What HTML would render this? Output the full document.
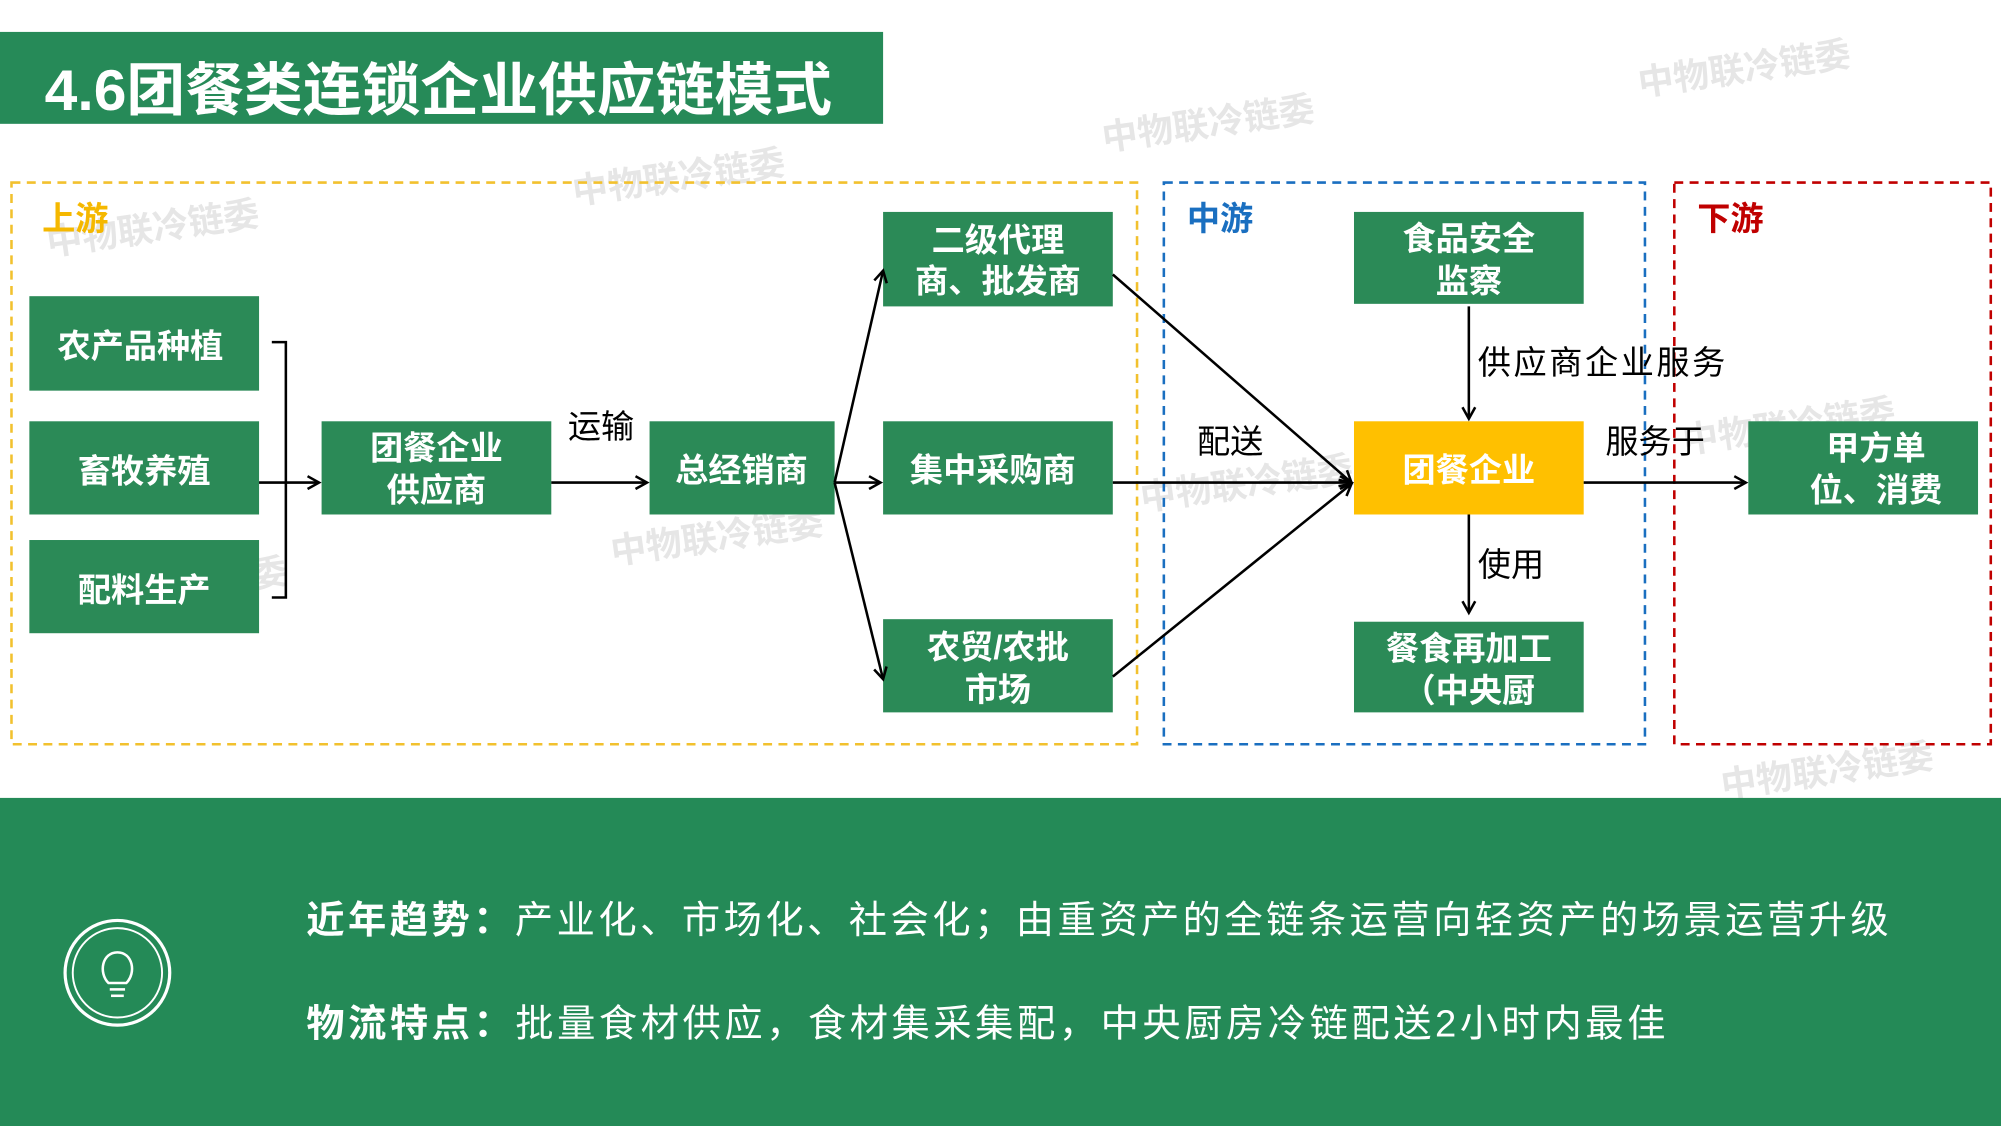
<!DOCTYPE html>
<html><head><meta charset="utf-8"><style>
html,body{margin:0;padding:0;background:#fff;}
svg{display:block;}
text{font-family:"Liberation Sans","Noto Sans CJK SC","WenQuanYi Zen Hei",sans-serif;}
</style></head><body>
<svg width="2001" height="1126" viewBox="0 0 1568 882" preserveAspectRatio="none" xmlns="http://www.w3.org/2000/svg">
<defs>
<marker id="ah" markerWidth="12" markerHeight="12" refX="10" refY="6" orient="auto" markerUnits="userSpaceOnUse">
<path d="M1,1 L10,6 L1,11" fill="none" stroke="#000" stroke-width="2"/>
</marker>
</defs>
<rect width="1568" height="882" fill="#fff"/>
<g fill="#e6e6e6" font-size="28" font-weight="bold">
<text x="38" y="200" transform="rotate(-8 38 200)">中物联冷链委</text>
<text x="450" y="160" transform="rotate(-8 450 160)">中物联冷链委</text>
<text x="865" y="118" transform="rotate(-8 865 118)">中物联冷链委</text>
<text x="1285" y="75" transform="rotate(-8 1285 75)">中物联冷链委</text>
<text x="480" y="442" transform="rotate(-8 480 442)">中物联冷链委</text>
<text x="895" y="400" transform="rotate(-8 895 400)">中物联冷链委</text>
<text x="1320" y="355" transform="rotate(-8 1320 355)">中物联冷链委</text>
<text x="1350" y="625" transform="rotate(-8 1350 625)">中物联冷链委</text>
<text x="60" y="480" transform="rotate(-8 60 480)">中物联冷链委</text>
</g>
<rect x="0" y="25" width="692" height="72" fill="#268a58"/>
<text x="35" y="86" font-size="45" font-weight="bold" fill="#fff" textLength="617" lengthAdjust="spacingAndGlyphs">4.6团餐类连锁企业供应链模式</text>
<rect x="9" y="143" width="882" height="440" fill="none" stroke="#f2c12e" stroke-width="2" stroke-dasharray="7,5"/>
<rect x="912" y="143" width="377" height="440" fill="none" stroke="#1a6fc0" stroke-width="2" stroke-dasharray="7,5"/>
<rect x="1312" y="143" width="248" height="440" fill="none" stroke="#c00000" stroke-width="2" stroke-dasharray="7,5"/>
<text x="33" y="180" font-size="26" font-weight="bold" fill="#f5b800">上游</text>
<text x="930" y="180" font-size="26" font-weight="bold" fill="#1a6fc0">中游</text>
<text x="1330" y="180" font-size="26" font-weight="bold" fill="#c00000">下游</text>
<g fill="#2b8a57">
<rect x="23" y="232" width="180" height="74"/>
<rect x="23" y="330" width="180" height="73"/>
<rect x="23" y="423" width="180" height="73"/>
<rect x="252" y="330" width="180" height="73"/>
<rect x="509" y="330" width="145" height="73"/>
<rect x="692" y="166" width="180" height="74"/>
<rect x="692" y="330" width="180" height="73"/>
<rect x="692" y="485" width="180" height="73"/>
<rect x="1061" y="166" width="180" height="72"/>
<rect x="1061" y="487" width="180" height="71"/>
<rect x="1370" y="330" width="180" height="73"/>
</g>
<rect x="1061" y="330" width="180" height="73" fill="#ffc000"/>
<g font-size="26" font-weight="bold" fill="#fff" text-anchor="middle">
<text x="110" y="280">农产品种植</text>
<text x="113" y="378">畜牧养殖</text>
<text x="113" y="471">配料生产</text>
<text x="342" y="360">团餐企业</text>
<text x="342" y="393">供应商</text>
<text x="581" y="377">总经销商</text>
<text x="782" y="197">二级代理</text>
<text x="782" y="229">商、批发商</text>
<text x="778" y="377">集中采购商</text>
<text x="782" y="516">农贸/农批</text>
<text x="782" y="549">市场</text>
<text x="1151" y="196">食品安全</text>
<text x="1151" y="229">监察</text>
<text x="1151" y="377">团餐企业</text>
<text x="1151" y="517">餐食再加工</text>
<text x="1151" y="550">（中央厨</text>
<text x="1470" y="360">甲方单</text>
<text x="1470" y="393">位、消费</text>
</g>
<g stroke="#000" stroke-width="2" fill="none">
<path d="M213,268 H224 V468 H213"/>
<line x1="203" y1="378" x2="250" y2="378" marker-end="url(#ah)"/>
<line x1="432" y1="378" x2="507" y2="378" marker-end="url(#ah)"/>
<line x1="654" y1="378" x2="692" y2="212" marker-end="url(#ah)"/>
<line x1="654" y1="378" x2="690" y2="378" marker-end="url(#ah)"/>
<line x1="654" y1="378" x2="692" y2="532" marker-end="url(#ah)"/>
<line x1="872" y1="215" x2="1059" y2="378" marker-end="url(#ah)"/>
<line x1="872" y1="378" x2="1059" y2="378" marker-end="url(#ah)"/>
<line x1="872" y1="530" x2="1059" y2="379" marker-end="url(#ah)"/>
<line x1="1151" y1="240" x2="1151" y2="328" marker-end="url(#ah)"/>
<line x1="1151" y1="403" x2="1151" y2="480" marker-end="url(#ah)"/>
<line x1="1241" y1="378" x2="1368" y2="378" marker-end="url(#ah)"/>
</g>
<g font-size="26" fill="#000">
<text x="445" y="343">运输</text>
<text x="938" y="355">配送</text>
<text x="1158" y="293" textLength="194">供应商企业服务</text>
<text x="1158" y="451">使用</text>
<text x="1258" y="355">服务于</text>
</g>
<rect x="0" y="625" width="1568" height="257" fill="#248a57"/>
<circle cx="92" cy="762" r="41" fill="none" stroke="#fff" stroke-width="2.5"/>
<circle cx="92" cy="762" r="35" fill="none" stroke="#fff" stroke-width="1.5"/>
<path d="M85,770 C77,762 80,746 92,746 C104,746 107,762 99,770 Z" fill="none" stroke="#fff" stroke-width="2"/>
<line x1="86" y1="775" x2="98" y2="775" stroke="#fff" stroke-width="2"/>
<line x1="87" y1="780" x2="97" y2="780" stroke="#fff" stroke-width="2"/>
<text x="240" y="731" font-size="30" fill="#fff" textLength="1240"><tspan font-weight="bold">近年趋势：</tspan>产业化、市场化、社会化；由重资产的全链条运营向轻资产的场景运营升级</text>
<text x="240" y="812" font-size="30" fill="#fff" textLength="1065"><tspan font-weight="bold">物流特点：</tspan>批量食材供应，食材集采集配，中央厨房冷链配送2小时内最佳</text>
</svg>
</body></html>
